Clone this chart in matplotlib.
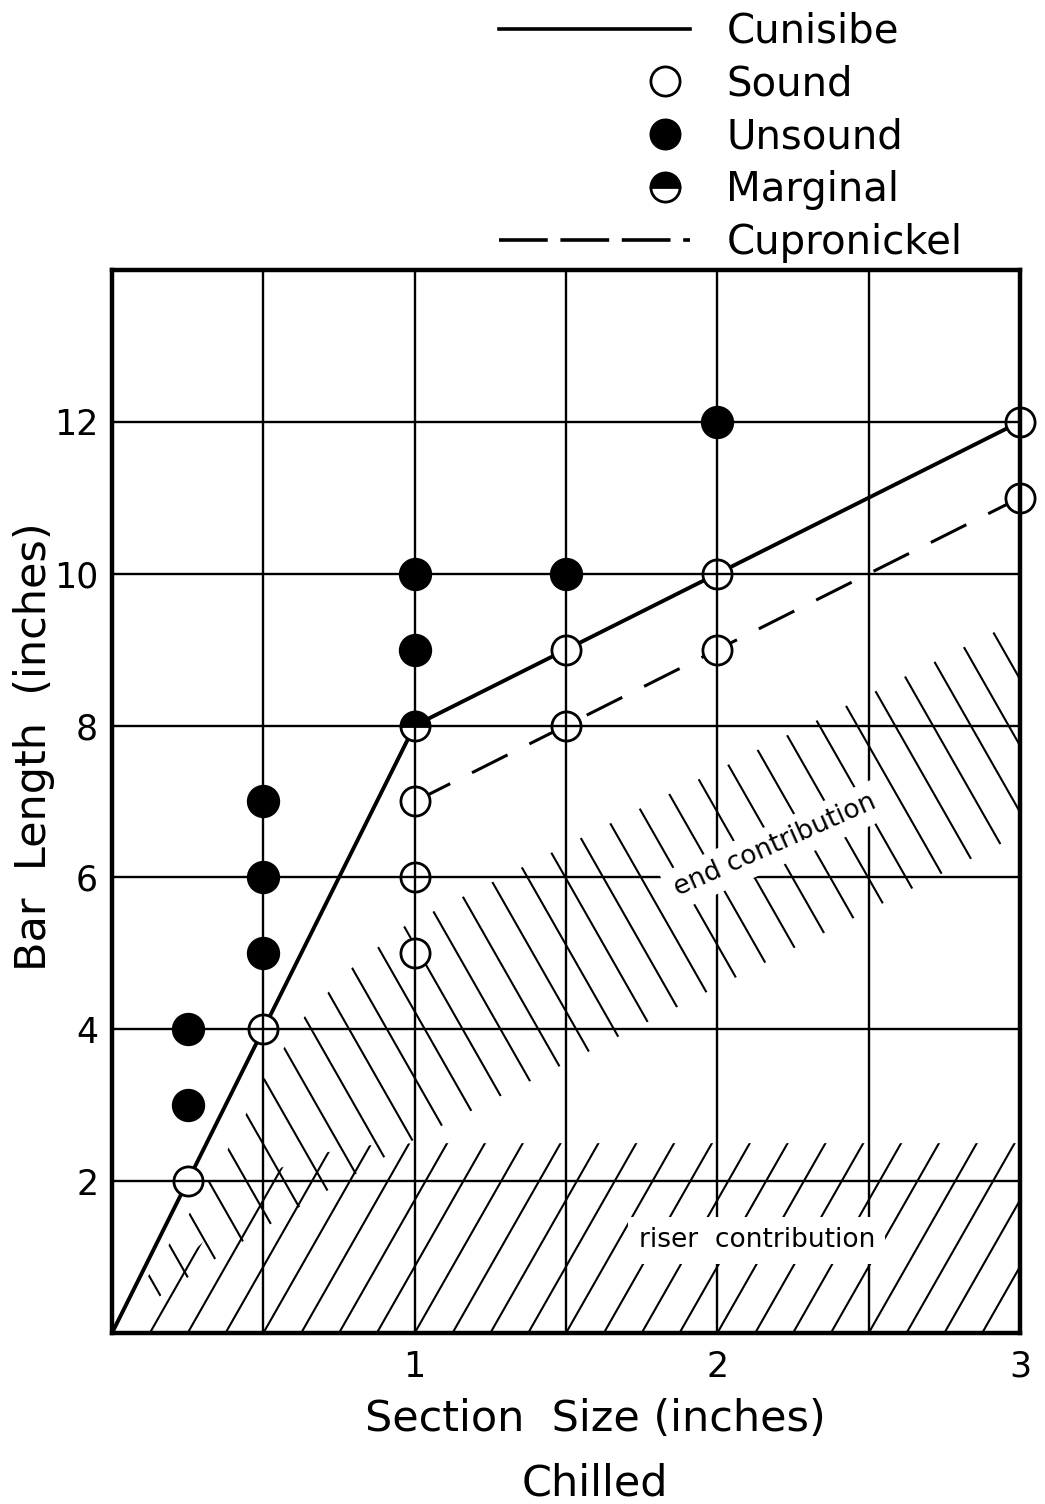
import matplotlib
matplotlib.use('Agg')
import matplotlib.pyplot as plt
import numpy as np
from matplotlib.lines import Line2D
from matplotlib.patches import Polygon
from matplotlib.collections import LineCollection
from matplotlib.legend_handler import HandlerLine2D

# Test bars: section size (in) vs bar length (in)
sound_x = [0.25, 0.5, 1, 1, 1, 1.5, 1.5, 2, 2, 3, 3]
sound_y = [2, 4, 7, 6, 5, 9, 8, 10, 9, 12, 11]
unsound_x = [0.25, 0.25, 0.5, 0.5, 0.5, 1, 1, 1.5, 2]
unsound_y = [4, 3, 7, 6, 5, 10, 9, 10, 12]
marginal_x = [1]
marginal_y = [8]

# Feeding-distance limits
cunisibe_x = [0, 0.25, 0.5, 1, 1.5, 2, 3]
cunisibe_y = [0, 2, 4, 8, 9, 10, 12]
cupro_x = [1, 1.5, 2, 3]
cupro_y = [7, 8, 9, 11]

# Shaded zones (outline of each hatched band)
riser_x = [0.11, 3.0, 3.0, 1.0, 0.84, 0.71, 0.56, 0.28]
riser_y = [0.0, 0.0, 2.5, 2.5, 2.47, 2.38, 2.18, 1.12]
end_x = [0.07, 0.26, 0.38, 0.50, 0.63, 0.79, 0.97, 3.0, 3.0, 1.0, 0.53, 0.35, 0.09]
end_y = [0.45, 1.60, 2.40, 3.33, 4.14, 4.80, 5.37, 9.40, 6.57, 2.55, 1.45, 1.00, 0.30]

legend_labels = ['Cunisibe', 'Sound', 'Unsound', 'Marginal', 'Cupronickel']

fig = plt.figure(figsize=(10.45, 15.04), dpi=100)
ax = fig.add_axes([0.1072, 0.1137, 0.8689, 0.7068])


def hatch_band(ax, xs, ys, slope, step, offset):
    # slanted hatch lines clipped to the band outline
    patch = Polygon(np.column_stack([xs, ys]), closed=True, fill=False,
                    edgecolor='none', transform=ax.transData)
    ax.add_patch(patch)
    starts = np.arange(-2, 5, step) + offset
    segs = [[(s, 0), (s + 12 / slope, 12)] for s in starts]
    lc = LineCollection(segs, colors='black', linewidths=1.5, zorder=1)
    ax.add_collection(lc)
    lc.set_clip_path(patch)


hatch_band(ax, riser_x, riser_y, 7.0, 0.125, 0.0)
hatch_band(ax, end_x, end_y, -7.0, 0.125, -0.02)

ax.plot(cunisibe_x, cunisibe_y, color='black', lw=2.8, zorder=1.8)
ax.plot(cupro_x, cupro_y, color='black', lw=2.2, dashes=(13, 8), zorder=1.8)

msize = 21
mew = 2.0
ax.plot(sound_x, sound_y, 'o', ms=msize, mfc='white', mec='black', mew=mew,
        zorder=2, clip_on=False)
ax.plot(unsound_x, unsound_y, 'o', ms=msize + 1, mfc='black', mec='black',
        mew=mew, zorder=2, clip_on=False)
ax.plot(marginal_x, marginal_y, 'o', ms=msize, fillstyle='top', mfc='black',
        mfcalt='white', mec='black', mew=mew, zorder=2, clip_on=False)

ax.text(2.19, 6.42, 'end contribution', rotation=24, fontsize=19,
        ha='center', va='center', zorder=3,
        bbox=dict(boxstyle='square,pad=0.3', fc='white', ec='none'))
ax.text(2.13, 1.22, 'riser  contribution', fontsize=19,
        ha='center', va='center', zorder=3,
        bbox=dict(boxstyle='square,pad=0.4', fc='white', ec='none'))

ax.set_xlim(0, 3)
ax.set_ylim(0, 14)
ax.set_xticks([1, 2, 3])
ax.set_xticks([0.5, 1.5, 2.5], minor=True)
ax.set_yticks([2, 4, 6, 8, 10, 12])
ax.set_axisbelow(False)
ax.grid(True, which='both', color='black', lw=1.7)
ax.tick_params(which='both', length=0, labelsize=25)
ax.tick_params(axis='x', pad=12)
ax.tick_params(axis='y', pad=10)
for sp in ax.spines.values():
    sp.set_linewidth(3.2)

ax.set_xlabel('Section  Size (inches)\nChilled', fontsize=31, linespacing=1.68)
ax.xaxis.set_label_coords(0.532, -0.061)
ax.set_ylabel('Bar  Length  (inches)', fontsize=31)
ax.yaxis.set_label_coords(-0.063, 0.552)


class RightMarker(HandlerLine2D):
    # shift the single legend marker towards the right end of the handle
    def create_artists(self, legend, orig_handle, xdescent, ydescent, width,
                       height, fontsize, trans):
        artists = super().create_artists(legend, orig_handle, xdescent,
                                         ydescent, width, height, fontsize,
                                         trans)
        for a in artists:
            x = np.asarray(a.get_xdata(), dtype=float)
            if len(x) == 3:
                x[1] = x[0] + 0.87 * (x[2] - x[0])
                a.set_xdata(x)
        return artists


handles = [
    Line2D([], [], color='black', lw=2.6),
    Line2D([], [], ls='none', marker='o', ms=msize, mfc='white', mec='black', mew=mew),
    Line2D([], [], ls='none', marker='o', ms=msize, mfc='black', mec='black', mew=mew),
    Line2D([], [], ls='none', marker='o', ms=msize, fillstyle='top', mfc='black',
           mfcalt='white', mec='black', mew=mew),
    Line2D([], [], color='black', lw=2.6, dashes=(13.5, 3.5)),
]
fig.legend(handles, legend_labels, loc='upper left',
           bbox_to_anchor=(0.462, 1.003), frameon=False, fontsize=29,
           handlelength=4.75, handletextpad=0.9, labelspacing=0.32,
           borderaxespad=0, handler_map={Line2D: RightMarker()})

fig.savefig('out.png', dpi=100)
